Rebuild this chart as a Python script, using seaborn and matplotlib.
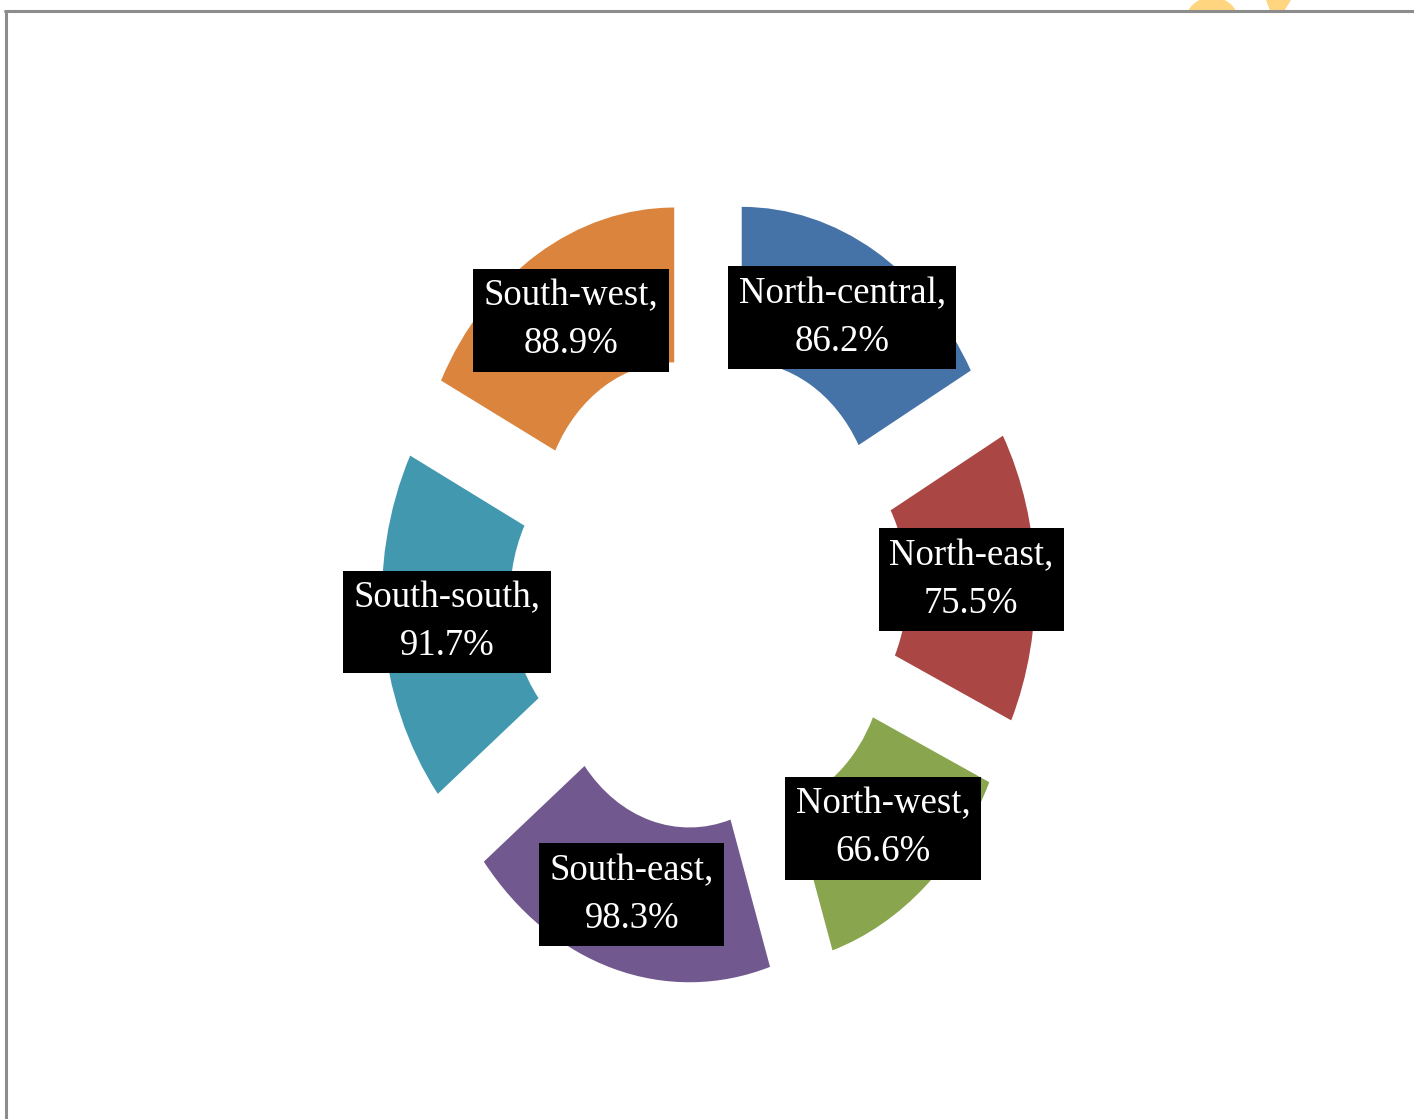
import matplotlib
matplotlib.use("Agg")
import matplotlib.pyplot as plt
from matplotlib.lines import Line2D
from matplotlib.patches import Ellipse, Polygon, Rectangle
import seaborn as sns

# Regional shares (%), clockwise from the top
regions = ["North-central", "North-east", "North-west", "South-east", "South-south", "South-west"]
shares = [86.2, 75.5, 66.6, 98.3, 91.7, 88.9]
colors = ["#4572A7", "#AA4643", "#89A54E", "#71588F", "#4198AF", "#DB843D"]

sns.set_theme(style="white")
plt.rcParams["font.family"] = ["Liberation Serif", "DejaVu Serif"]

fig = plt.figure(figsize=(14.14, 11.19), dpi=100)
fig.patch.set_facecolor("white")
ax = fig.add_axes([0, 0, 1, 1])

palette = sns.color_palette(colors)
labels = [f"{r},\n{v:.1f}%" for r, v in zip(regions, shares)]

wedges, texts = ax.pie(
    shares,
    labels=labels,
    colors=palette,
    startangle=90,
    counterclock=False,
    explode=[0.25] * len(shares),
    labeldistance=0.755,
    wedgeprops=dict(width=0.49, edgecolor="none", linewidth=0),
)

for t in texts:
    t.set_ha("center")
    t.set_va("center")
    t.set_color("white")
    t.set_fontsize(26.5)
    t.set_linespacing(1.5)
    t.set_multialignment("center")
    t.set_bbox(dict(boxstyle="square,pad=0.28", facecolor="black", edgecolor="none"))

ax.set_aspect("auto")
ax.set_xlim(-2.709, 2.698)
ax.set_ylim(-1.672, 1.870)
ax.axis("off")

# Decoration peeking in above the frame, top right (clipped to the strip above the frame)
W, H = 1414, 1119
strip = Rectangle((0, 1 - 11 / H), 1, 11 / H, transform=fig.transFigure,
                  facecolor="none", edgecolor="none")
fig.patches.append(strip)
blob = Ellipse((1212 / W, 1 - 25 / H), 56 / W, 56 / H, transform=fig.transFigure,
               facecolor="#FFD580", edgecolor="none", zorder=1)
vee = Polygon([(1266 / W, 1.0), (1291 / W, 1.0), (1281 / W, 1 - 16 / H), (1272 / W, 1 - 16 / H)],
              closed=True, transform=fig.transFigure,
              facecolor="#FFD580", edgecolor="none", zorder=1)
for p in (blob, vee):
    p.set_clip_path(strip)
    fig.patches.append(p)

# Frame lines along the top and left edges
fig.lines.append(Line2D([5 / W, 1.0], [1 - 11 / H, 1 - 11 / H], transform=fig.transFigure,
                        color="#8C8C8C", linewidth=2.2, zorder=2))
fig.lines.append(Line2D([6 / W, 6 / W], [0.0, 1 - 11 / H], transform=fig.transFigure,
                        color="#8C8C8C", linewidth=2.2, zorder=2))

fig.savefig("out.png", dpi=100, facecolor="white")
